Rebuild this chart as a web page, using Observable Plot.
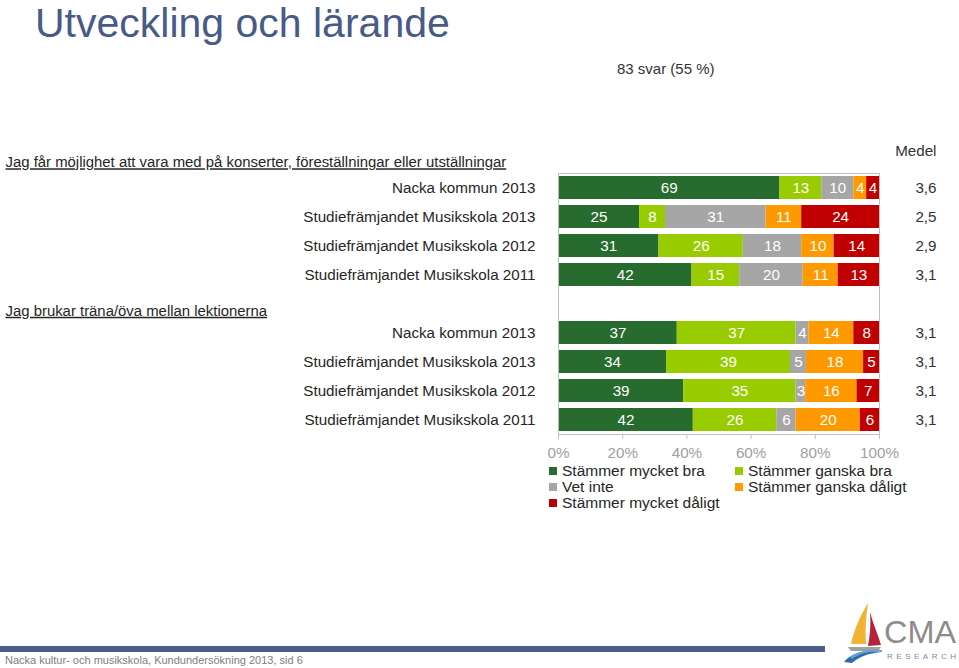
<!DOCTYPE html>
<html><head><meta charset="utf-8">
<script src="https://cdn.jsdelivr.net/npm/d3@7"></script>
<script src="https://cdn.jsdelivr.net/npm/@observablehq/plot@0.6"></script>
<style>
body{margin:0;background:#fff;font-family:"Liberation Sans",Arial,sans-serif;}
#page{position:relative;width:959px;height:668px;overflow:hidden;background:#fff;}
.abs{position:absolute;white-space:nowrap;}
#legend{display:grid;grid-template-columns:186px auto;grid-auto-rows:16px;font-size:15.5px;line-height:16px;color:#262626;}
.li{display:flex;align-items:center;}
.sw{width:8px;height:8px;margin-right:5px;flex:none;}
</style></head><body><div id="page">
<div class="abs" style="left:35px;top:1px;font-size:41px;line-height:44px;color:#485A86">Utveckling och lärande</div>
<div class="abs" style="left:617px;top:60.5px;font-size:15px;line-height:15px;color:#333">83 svar (55 %)</div>
<div id="chart" class="abs" style="left:0;top:0"></div>
<div id="legend" class="abs" style="left:549px;top:463px;"></div>
<div class="abs" style="left:0;top:646px;width:825px;height:6px;background:#4B5E8B"></div>
<div class="abs" style="left:5px;top:655px;font-size:11px;line-height:11px;color:#808080">Nacka kultur- och musikskola, Kundundersökning 2013, sid 6</div>
<svg class="abs" style="left:840px;top:600px" width="119" height="64" viewBox="0 0 119 64">
  <path d="M28,3 C20,16 14,30 11,44 L26,44 C25,30 26,16 28,3 Z" fill="#F2B233"/>
  <path d="M30,12 C33,24 38,34 41,45 L28,46 C30,35 31,24 30,12 Z" fill="#B3243B"/>
  <path d="M8,47 L41,47 L38,51 L11,51 Z" fill="#A0A0A0"/>
  <path d="M4,62 C12,52 26,50 42,52 C30,53 20,56 12,63 Z" fill="#2F6CA8"/>
  <path d="M10,57 C18,51 30,49 42,50 L42,52 C30,51 20,53 12,59 Z" fill="#5FA3D6"/>
  <text x="44" y="43" font-family="Liberation Sans, Arial, sans-serif" font-size="32" fill="#8C8C8C" textLength="72" lengthAdjust="spacingAndGlyphs">CMA</text>
  <text x="47" y="59" font-family="Liberation Sans, Arial, sans-serif" font-size="8" fill="#7A8AA8" textLength="69" lengthAdjust="spacing">RESEARCH</text>
</svg>
</div>
<script>
// ---- data ----
const questions = [
  "Jag får möjlighet att vara med på konserter, föreställningar eller utställningar",
  "Jag brukar träna/öva mellan lektionerna"
];
const groups = [
  "Nacka kommun 2013",
  "Studiefrämjandet Musikskola 2013",
  "Studiefrämjandet Musikskola 2012",
  "Studiefrämjandet Musikskola 2011"
];
const responses = ["Stämmer mycket bra", "Stämmer ganska bra", "Vet inte", "Stämmer ganska dåligt", "Stämmer mycket dåligt"];
const colors = ["#276B2E", "#99CC00", "#A6A6A6", "#FF9900", "#C00000"];
const q1Values = [
  [69, 13, 10, 4, 4],
  [25, 8, 31, 11, 24],
  [31, 26, 18, 10, 14],
  [42, 15, 20, 11, 13]
];
const q2Values = [
  [37, 37, 4, 14, 8],
  [34, 39, 5, 18, 5],
  [39, 35, 3, 16, 7],
  [42, 26, 6, 20, 6]
];
const q1Medel = ["3,6", "2,5", "2,9", "3,1"];
const q2Medel = ["3,1", "3,1", "3,1", "3,1"];
const xTicks = [0, 20, 40, 60, 80, 100];
const medelLabel = "Medel";

// ---- build tables ----
const allValues = [q1Values, q2Values];
const allMedel = [q1Medel, q2Medel];
const headingKey = "H2";
const yDomain = [];
const labelOf = {};
const rowsData = [];
const segments = [];
questions.forEach((q, qi) => {
  if (qi === 1) { yDomain.push(headingKey); labelOf[headingKey] = ""; }
  groups.forEach((g, gi) => {
    const key = qi + "|" + gi;
    yDomain.push(key);
    labelOf[key] = g;
    rowsData.push({key, medel: allMedel[qi][gi]});
    responses.forEach((r, ri) => segments.push({key, response: r, value: allValues[qi][gi][ri]}));
  });
});

const font = '"Liberation Sans", Arial, sans-serif';
const chart = Plot.plot({
  width: 959, height: 462,
  marginTop: 173, marginBottom: 28, marginLeft: 558, marginRight: 80,
  style: {fontFamily: font, fontSize: "15.2px", color: "#333", background: "transparent", overflow: "visible"},
  x: {domain: [0, 1], axis: null},
  y: {domain: yDomain, paddingInner: 0.2, paddingOuter: 0.1, axis: null},
  color: {domain: responses, range: colors},
  marks: [
    Plot.barX(segments, Plot.stackX({offset: "normalize", x: "value", y: "key", z: "response", fill: "response"})),
    Plot.text(segments, Plot.stackX({offset: "normalize", x: "value", y: "key", z: "response", text: d => String(d.value), fill: "white"})),
    Plot.frame({stroke: "#BFBFBF"}),
    Plot.axisX({ticks: xTicks.map(t => t / 100), tickFormat: d3.format(".0%"), tickSize: 5, tickPadding: 8, stroke: "#BFBFBF", fill: "#A0A0A0", label: null}),
    Plot.axisY({tickSize: 0, tickPadding: 23, tickFormat: k => labelOf[k], fill: "#262626", label: null}),
    Plot.text(rowsData, {y: "key", text: "medel", frameAnchor: "right", dx: 57, fill: "#333"}),
    Plot.text([medelLabel], {frameAnchor: "top-right", lineAnchor: "middle", dx: 57, dy: -22, fill: "#333"}),
    Plot.text([questions[0]], {frameAnchor: "top-left", lineAnchor: "middle", dx: -553, dy: -11, textAnchor: "start", fill: "#262626", fontSize: 14.9}),
    Plot.text([questions[1]], {y: [headingKey], frameAnchor: "left", dx: -553, dy: 7, textAnchor: "start", fill: "#262626", fontSize: 14.9})
  ]
});
d3.select(chart).selectAll("text")
  .filter(function() { return questions.includes(this.textContent); })
  .style("text-decoration", "underline");
document.getElementById("chart").appendChild(chart);

// ---- legend ----
const legend = d3.select("#legend");
responses.forEach((r, i) => {
  const it = legend.append("div").attr("class", "li");
  it.append("span").attr("class", "sw").style("background", colors[i]);
  it.append("span").text(r);
});
</script>
</body></html>
